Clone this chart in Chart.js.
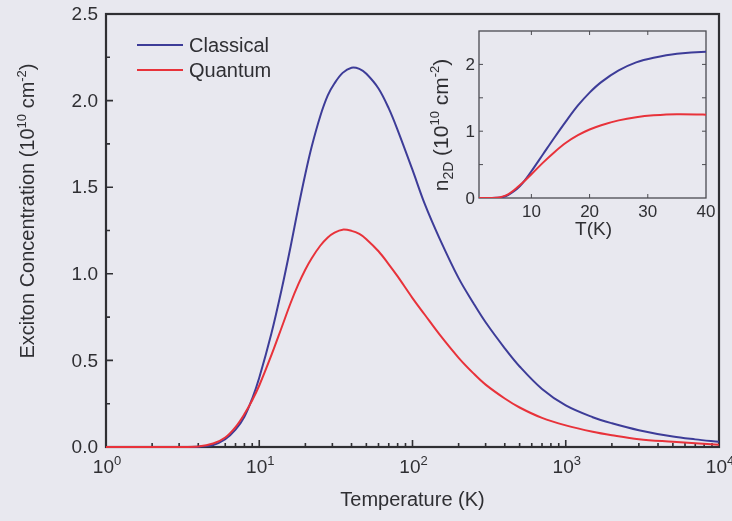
<!DOCTYPE html>
<html>
<head>
<meta charset="utf-8">
<script src="https://cdn.jsdelivr.net/npm/chart.js@4"></script>
<style>
  html, body { margin: 0; padding: 0; background: #e8e8ef; }
  #wrap { position: relative; width: 732px; height: 521px; overflow: hidden; }
  #main { position: absolute; left: 0; top: 0; }
  #inset { position: absolute; left: 400px; top: 0; }
</style>
</head>
<body>
<div id="wrap">
  <canvas id="main" width="732" height="521"></canvas>
  <canvas id="inset" width="332" height="250"></canvas>
</div>
<script>
// ---- data ----
const temperatures = [1,2,3,4,5,6,7,8,9,10,12,14,16,18,20,22,25,28,31,35,40,45,50,60,70,80,100,120,150,200,250,300,400,500,700,1000,1500,2000,3000,5000,7000,10000];
const classical   = [0,0,0,0.002,0.012,0.045,0.10,0.175,0.28,0.40,0.655,0.91,1.155,1.385,1.578,1.735,1.91,2.03,2.10,2.16,2.19,2.183,2.155,2.07,1.955,1.83,1.60,1.405,1.205,0.975,0.83,0.72,0.57,0.465,0.335,0.24,0.172,0.137,0.097,0.060,0.044,0.03];
const quantum     = [0,0,0,0.003,0.02,0.055,0.115,0.19,0.27,0.355,0.53,0.69,0.83,0.94,1.025,1.09,1.162,1.21,1.238,1.255,1.248,1.23,1.20,1.13,1.055,0.985,0.86,0.765,0.65,0.515,0.425,0.36,0.28,0.228,0.168,0.125,0.088,0.068,0.045,0.03,0.021,0.013];
const seriesNames = ['Classical', 'Quantum'];
const mainYTicks = [0, 0.5, 1.0, 1.5, 2.0, 2.5];
const mainXDecades = [0, 1, 2, 3, 4];
const insetXTicks = [10, 20, 30, 40];
const insetYTicks = [0, 1, 2];

const BLUE = '#3d3c98';
const RED = '#e8323a';
const INK = '#2f2f33';
const FAM = '"Liberation Sans", Arial, Helvetica, sans-serif';

function richWidth(ctx, segs) {
  let w = 0;
  for (const s of segs) { ctx.font = s.size + 'px ' + FAM; w += ctx.measureText(s.t).width; }
  return w;
}
function drawRich(ctx, segs, x, y, align, angle) {
  ctx.save();
  ctx.translate(x, y);
  if (angle) ctx.rotate(angle);
  ctx.fillStyle = INK;
  ctx.textBaseline = 'alphabetic';
  ctx.textAlign = 'left';
  const w = richWidth(ctx, segs);
  let cx = align === 'center' ? -w / 2 : (align === 'right' ? -w : 0);
  for (const s of segs) {
    ctx.font = s.size + 'px ' + FAM;
    ctx.fillText(s.t, cx, s.dy || 0);
    cx += ctx.measureText(s.t).width;
  }
  ctx.restore();
}

const points = (ys) => temperatures.map((t, i) => ({ x: t, y: ys[i] }));

// ---- main chart decorations ----
const mainDecor = {
  id: 'mainDecor',
  beforeDatasetsDraw(chart) {
    const { ctx, chartArea: a, scales: { x, y } } = chart;
    ctx.save();
    ctx.strokeStyle = INK;
    ctx.lineWidth = 2.2;
    ctx.strokeRect(a.left, a.top, a.right - a.left, a.bottom - a.top);
    ctx.lineWidth = 1.6;
    ctx.beginPath();
    for (let v = 0; v <= 2.5001; v += 0.25) {
      const py = y.getPixelForValue(v);
      const major = Math.abs(v / 0.5 - Math.round(v / 0.5)) < 1e-6;
      ctx.moveTo(a.left, py); ctx.lineTo(a.left + (major ? 7 : 4), py);
    }
    for (const d of mainXDecades) {
      for (let m = 1; m <= 9; m++) {
        const t = m * Math.pow(10, d);
        if (t > 10000) break;
        const px = x.getPixelForValue(t);
        ctx.moveTo(px, a.bottom); ctx.lineTo(px, a.bottom - (m === 1 ? 7 : 4));
      }
    }
    ctx.stroke();
    ctx.restore();
  },
  afterDraw(chart) {
    const { ctx, chartArea: a, scales: { x, y } } = chart;
    ctx.save();
    ctx.fillStyle = INK;
    ctx.font = '19px ' + FAM;
    ctx.textAlign = 'right';
    ctx.textBaseline = 'middle';
    for (const v of mainYTicks) ctx.fillText(v.toFixed(1), 98, y.getPixelForValue(v) + 1);
    for (const d of mainXDecades) {
      const px = x.getPixelForValue(Math.pow(10, d));
      drawRich(ctx, [{ t: '10', size: 19 }, { t: String(d), size: 13, dy: -8 }], px + 1, 473, 'center');
    }
    drawRich(ctx, [{ t: 'Temperature (K)', size: 20 }], (a.left + a.right) / 2, 506, 'center');
    drawRich(ctx, [
      { t: 'Exciton Concentration (10', size: 20 },
      { t: '10', size: 13, dy: -8 },
      { t: ' cm', size: 20 },
      { t: '-2', size: 13, dy: -8 },
      { t: ')', size: 20 }
    ], 34, 211, 'center', -Math.PI / 2);
    const ds = chart.data.datasets;
    const rows = [45, 70];
    ds.forEach((d, i) => {
      ctx.strokeStyle = d.borderColor;
      ctx.lineWidth = 2;
      ctx.beginPath();
      ctx.moveTo(137, rows[i]); ctx.lineTo(183, rows[i]);
      ctx.stroke();
      drawRich(ctx, [{ t: d.label, size: 20 }], 189, rows[i] + 7, 'left');
    });
    ctx.restore();
  }
};

const lineStyle = { borderWidth: 2, pointRadius: 0, tension: 0.35 };

new Chart(document.getElementById('main'), {
  type: 'line',
  data: {
    datasets: [
      { label: seriesNames[0], data: points(classical), borderColor: BLUE, ...lineStyle, order: 2, clip: false },
      { label: seriesNames[1], data: points(quantum), borderColor: RED, ...lineStyle, order: 1, clip: false }
    ]
  },
  options: {
    responsive: false,
    animation: false,
    devicePixelRatio: 1,
    layout: { autoPadding: false, padding: { top: 14, right: 13, left: 0, bottom: 0 } },
    plugins: { legend: { display: false }, tooltip: { enabled: false } },
    scales: {
      x: { type: 'logarithmic', min: 1, max: 10000,
           ticks: { display: false }, grid: { display: false }, border: { display: false },
           afterFit(s) { s.height = 74; } },
      y: { type: 'linear', min: 0, max: 2.5,
           ticks: { display: false }, grid: { display: false }, border: { display: false },
           afterFit(s) { s.width = 106; } }
    }
  },
  plugins: [mainDecor]
});

// ---- inset chart ----
const insetDecor = {
  id: 'insetDecor',
  beforeDatasetsDraw(chart) {
    const { ctx, chartArea: a, scales: { x, y } } = chart;
    ctx.save();
    ctx.strokeStyle = '#4a4a50';
    ctx.lineWidth = 1.3;
    ctx.strokeRect(a.left, a.top, a.right - a.left, a.bottom - a.top);
    ctx.lineWidth = 1;
    ctx.beginPath();
    for (let v = 0.5; v < 2.5; v += 0.5) {
      const py = y.getPixelForValue(v);
      ctx.moveTo(a.left, py); ctx.lineTo(a.left + 4, py);
      ctx.moveTo(a.right, py); ctx.lineTo(a.right - 4, py);
    }
    for (const t of [10, 20, 30]) {
      const px = x.getPixelForValue(t);
      ctx.moveTo(px, a.bottom); ctx.lineTo(px, a.bottom - 4);
      ctx.moveTo(px, a.top); ctx.lineTo(px, a.top + 4);
    }
    ctx.stroke();
    ctx.restore();
  },
  afterDraw(chart) {
    const { ctx, chartArea: a, scales: { x, y } } = chart;
    ctx.save();
    ctx.fillStyle = INK;
    ctx.font = '17px ' + FAM;
    ctx.textAlign = 'right';
    ctx.textBaseline = 'middle';
    for (const v of insetYTicks) ctx.fillText(String(v), a.left - 4, y.getPixelForValue(v) + 1);
    ctx.textAlign = 'center';
    ctx.textBaseline = 'alphabetic';
    for (const t of insetXTicks) ctx.fillText(String(t), x.getPixelForValue(t), a.bottom + 19);
    drawRich(ctx, [{ t: 'T(K)', size: 19 }], (a.left + a.right) / 2 + 1, 235, 'center');
    drawRich(ctx, [
      { t: 'n', size: 21 },
      { t: '2D', size: 14, dy: 5 },
      { t: ' (10', size: 21 },
      { t: '10', size: 13, dy: -9 },
      { t: ' cm', size: 21 },
      { t: '-2', size: 13, dy: -9 },
      { t: ')', size: 21 }
    ], 48, 125, 'center', -Math.PI / 2);
    ctx.restore();
  }
};

new Chart(document.getElementById('inset'), {
  type: 'line',
  data: {
    datasets: [
      { label: seriesNames[0], data: points(classical), borderColor: BLUE, ...lineStyle, order: 2 },
      { label: seriesNames[1], data: points(quantum), borderColor: RED, ...lineStyle, order: 1 }
    ]
  },
  options: {
    responsive: false,
    animation: false,
    devicePixelRatio: 1,
    layout: { autoPadding: false, padding: { top: 31, right: 26, left: 0, bottom: 0 } },
    plugins: { legend: { display: false }, tooltip: { enabled: false } },
    scales: {
      x: { type: 'linear', min: 1, max: 40,
           ticks: { display: false }, grid: { display: false }, border: { display: false },
           afterFit(s) { s.height = 52; } },
      y: { type: 'linear', min: 0, max: 2.5,
           ticks: { display: false }, grid: { display: false }, border: { display: false },
           afterFit(s) { s.width = 79; } }
    }
  },
  plugins: [insetDecor]
});
</script>
</body>
</html>
